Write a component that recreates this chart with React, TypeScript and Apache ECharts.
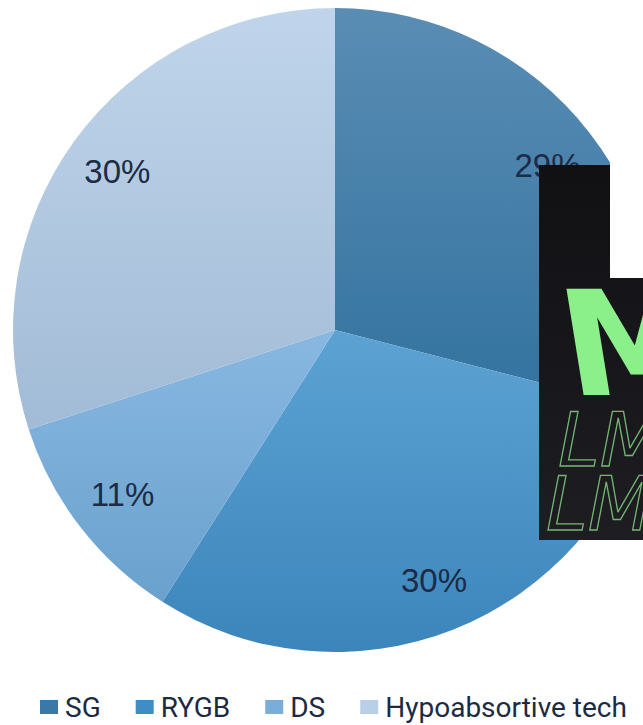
import React, { useEffect, useRef } from "react";
import * as echarts from "echarts";

const categories = ["SG", "RYGB", "DS", "Hypoabsortive tech"];
const values = [29, 30, 11, 30];
const topColors = ["#5a8db4", "#5ca3d3", "#88b8e2", "#c0d5eb"];
const bottomColors = ["#32729f", "#3c85bb", "#6aa1cd", "#a2bbd6"];
const legendColors = ["#3a78a8", "#3f8dc5", "#79aedb", "#b8cfe7"];

export default function App() {
  const ref = useRef<HTMLDivElement>(null);
  useEffect(() => {
    document.body.style.margin = "0";
    const chart = echarts.init(ref.current!, null, { renderer: "svg" });
    const mainData = categories.map((name, i) => ({
      name,
      value: values[i],
      itemStyle: {
        color: new echarts.graphic.LinearGradient(0, 0, 0, 1, [
          { offset: 0, color: topColors[i] },
          { offset: 1, color: bottomColors[i] },
        ]),
      },
    }));
    const labelData = categories.map((name, i) => ({ name, value: values[i] }));
    chart.setOption({
      animation: false,
      backgroundColor: "#ffffff",
      legend: {
        left: 40,
        top: 693,
        padding: 0,
        itemWidth: 18,
        itemHeight: 14,
        itemGap: 35,
        icon: "rect",
        textStyle: {
          fontFamily: "Roboto",
          fontSize: 28,
          lineHeight: 28,
          color: "#1c2a44",
          padding: [0, 0, 0, 2],
        },
        data: categories.map((name, i) => ({
          name,
          itemStyle: { color: legendColors[i] },
        })),
      },
      series: [
        {
          type: "pie",
          center: [335, 330],
          radius: [0, 322],
          startAngle: 90,
          clockwise: true,
          silent: true,
          label: { show: false },
          labelLine: { show: false },
          itemStyle: { borderWidth: 0 },
          data: mainData,
        },
        {
          type: "pie",
          center: [335, 330],
          radius: [210, 322],
          startAngle: 90,
          clockwise: true,
          silent: true,
          itemStyle: { color: "rgba(0,0,0,0)", borderWidth: 0 },
          label: {
            show: true,
            position: "inside",
            formatter: "{d}%",
            fontFamily: "Liberation Sans",
            fontSize: 33,
            color: "#1d2b45",
          },
          labelLine: { show: false },
          data: labelData,
        },
      ],
      graphic: [
        {
          type: "polygon",
          z: 100,
          shape: {
            points: [
              [539, 165],
              [610, 165],
              [610, 278],
              [643, 278],
              [643, 540],
              [539, 540],
            ],
          },
          style: {
            fill: new echarts.graphic.LinearGradient(0, 0, 0, 1, [
              { offset: 0, color: "#111114" },
              { offset: 1, color: "#1d1d22" },
            ]),
          },
        },
        {
          type: "rect",
          z: 100,
          shape: { x: 610, y: 160, width: 40, height: 118 },
          style: { fill: "#ffffff" },
        },
        {
          type: "text",
          z: 101,
          x: 574,
          y: 418,
          skewX: 0.16,
          style: {
            text: "M",
            fontFamily: "DejaVu Sans",
            fontWeight: "bold",
            fontSize: 146,
            fill: "#8cf08a",
            verticalAlign: "bottom",
          },
        },
        {
          type: "text",
          z: 101,
          x: 558,
          y: 477,
          style: {
            text: "LM",
            fontFamily: "DejaVu Sans",
            fontStyle: "italic",
            fontSize: 75,
            fill: "rgba(0,0,0,0)",
            stroke: "#74b574",
            lineWidth: 1.3,
            verticalAlign: "bottom",
          },
        },
        {
          type: "text",
          z: 101,
          x: 546,
          y: 541,
          style: {
            text: "LM",
            fontFamily: "DejaVu Sans",
            fontStyle: "italic",
            fontSize: 75,
            fill: "rgba(0,0,0,0)",
            stroke: "#74b574",
            lineWidth: 1.3,
            verticalAlign: "bottom",
          },
        },
        {
          type: "rect",
          z: 102,
          shape: { x: 530, y: 540, width: 113, height: 0 },
          style: { fill: "#ffffff" },
        },
      ],
    });
    return () => chart.dispose();
  }, []);
  return <div ref={ref} style={{ width: 643, height: 725 }} />;
}
